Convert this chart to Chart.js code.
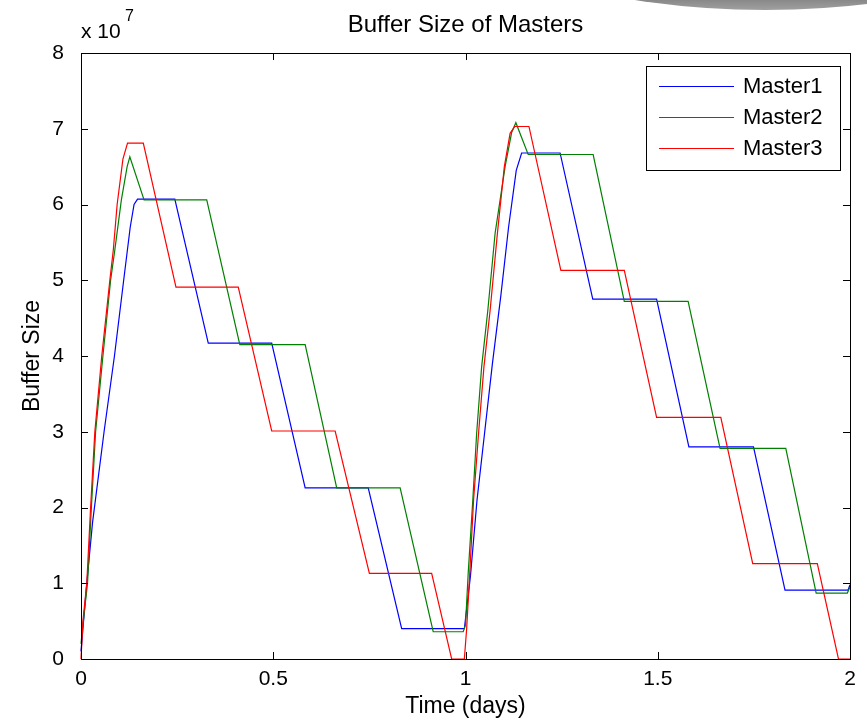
<!DOCTYPE html>
<html>
<head>
<meta charset="utf-8">
<script src="https://cdn.jsdelivr.net/npm/chart.js@4/dist/chart.umd.min.js"></script>
<style>
  html,body{margin:0;padding:0;background:#fff;}
  canvas{display:block;}
</style>
</head>
<body>
<canvas id="c" width="867" height="722"></canvas>
<script>
// tick labels
const xTicks=[0,0.5,1,1.5,2];
const yTicks=[0,1,2,3,4,5,6,7,8];
const names=["Master1","Master2","Master3"];
const colors=["#0000ff","#008000","#ff0000"];

// Master1 (blue) - time in days / buffer size in units of 1e7
const t1=[0,0.015,0.03,0.06,0.087,0.111,0.128,0.138,0.147,0.244,0.331,0.496,0.583,0.747,0.834,0.997,
  1.013,1.03,1.05,1.07,1.092,1.112,1.132,1.146,1.246,1.331,1.497,1.581,1.749,1.831,1.995,2.0];
const v1=[0.1,1.0,1.8,3.0,4.0,5.0,5.7,6.0,6.07,6.07,4.17,4.17,2.26,2.26,0.40,0.40,
  1.1,2.1,3.0,3.9,4.8,5.7,6.45,6.68,6.68,4.75,4.75,2.80,2.80,0.91,0.91,0.98];

// Master2 (green)
const t2=[0,0.006,0.017,0.027,0.038,0.057,0.077,0.088,0.105,0.12,0.127,0.164,0.327,0.413,0.583,0.665,0.83,0.916,0.994,
  1.0,1.007,1.019,1.029,1.042,1.058,1.077,1.103,1.12,1.131,1.163,1.332,1.413,1.579,1.662,1.833,1.912,1.993,2.0];
const v2=[0.2,0.5,1.0,2.0,3.0,4.0,5.0,5.4,6.06,6.5,6.63,6.06,6.06,4.15,4.15,2.26,2.26,0.36,0.36,
  0.45,1.13,2.1,2.98,3.86,4.6,5.62,6.5,6.95,7.08,6.66,6.66,4.72,4.72,2.78,2.78,0.87,0.87,0.95];

// Master3 (red)
const t3=[0,0.005,0.015,0.025,0.036,0.054,0.075,0.084,0.094,0.109,0.121,0.162,0.247,0.409,0.496,0.661,0.75,0.912,0.964,0.997,
  1.003,1.011,1.021,1.034,1.048,1.064,1.083,1.101,1.116,1.128,1.165,1.248,1.413,1.497,1.664,1.747,1.915,1.97,2.0];
const v3=[0,0.5,1.0,2.0,3.0,4.0,5.0,5.4,6.0,6.6,6.81,6.81,4.91,4.91,3.01,3.01,1.13,1.13,0,0,
  0.4,1.13,2.1,2.98,3.86,4.6,5.62,6.5,6.94,7.03,7.03,5.13,5.13,3.19,3.19,1.26,1.26,0,0];

const series=[[t1,v1],[t2,v2],[t3,v3]];
const FONT="'Liberation Sans', Arial, Helvetica, sans-serif";

const frame={
  id:"frame",
  beforeDraw(chart){
    const c=chart.ctx;
    c.save();
    c.fillStyle="#fff";
    c.fillRect(0,0,chart.width,chart.height);
    // grey swoosh at the top right of the screenshot
    const g=c.createLinearGradient(0,-20,0,10);
    g.addColorStop(0,"#5a5a5a");g.addColorStop(1,"#a0a0a0");
    c.fillStyle=g;
    c.beginPath();
    c.ellipse(765,-91,300,101,0,0,Math.PI*2);
    c.fill();
    c.restore();
  },
  afterDraw(chart){
    const c=chart.ctx,a=chart.chartArea,x=chart.scales.x,y=chart.scales.y;
    c.save();
    c.strokeStyle="#000";c.lineWidth=1;
    c.strokeRect(Math.round(a.left)+0.5,Math.round(a.top)+0.5,Math.round(a.right-a.left),Math.round(a.bottom-a.top));
    c.beginPath();
    yTicks.forEach(v=>{
      const p=Math.round(y.getPixelForValue(v))+0.5;
      c.moveTo(a.left,p);c.lineTo(a.left+7,p);
      c.moveTo(a.right,p);c.lineTo(a.right-7,p);
    });
    xTicks.forEach(v=>{
      const p=Math.round(x.getPixelForValue(v))+0.5;
      c.moveTo(p,a.bottom);c.lineTo(p,a.bottom-7);
      c.moveTo(p,a.top);c.lineTo(p,a.top+7);
    });
    c.stroke();

    // title and exponent
    c.fillStyle="#000";
    c.textBaseline="alphabetic";
    c.textAlign="center";
    c.font="24px "+FONT;
    c.fillText("Buffer Size of Masters",(a.left+a.right)/2,32);
    c.textAlign="left";
    c.font="21px "+FONT;
    c.fillText("x 10",81,38);
    c.font="16px "+FONT;
    c.fillText("7",125,21);

    // legend box
    const lx=646,ly=66,lw=194,lh=104;
    c.fillStyle="#fff";
    c.fillRect(lx,ly,lw,lh);
    c.strokeRect(lx+0.5,ly+0.5,lw,lh);
    c.font="22px "+FONT;
    c.textBaseline="middle";
    chart.data.datasets.forEach((d,i)=>{
      const yy=86+i*31;
      c.strokeStyle=d.borderColor;
      c.lineWidth=1.2;
      c.beginPath();c.moveTo(659,yy+0.5);c.lineTo(734,yy+0.5);c.stroke();
      c.fillStyle="#000";
      c.fillText(d.label,743,yy+1);
    });
    c.restore();
  }
};

new Chart(document.getElementById("c"),{
  type:"line",
  data:{
    datasets:series.map((s,i)=>({
      label:names[i],
      data:s[0].map((t,k)=>({x:t,y:s[1][k]})),
      borderColor:colors[i],
      borderWidth:1.2,
      pointRadius:0,
      tension:0,
      fill:false,
      clip:4,
      order:2-i
    }))
  },
  options:{
    responsive:false,
    animation:false,
    devicePixelRatio:1,
    layout:{padding:{top:53,right:17,left:0,bottom:0}},
    plugins:{legend:{display:false},tooltip:{enabled:false},title:{display:false}},
    scales:{
      x:{
        type:"linear",min:0,max:2,
        afterBuildTicks:s=>{s.ticks=xTicks.map(v=>({value:v}));},
        afterFit:s=>{s.height=63;},
        grid:{display:false},
        border:{display:false},
        ticks:{color:"#000",font:{family:FONT,size:21},padding:0,maxRotation:0,callback:v=>String(v)},
        title:{display:true,text:"Time (days)",color:"#000",font:{family:FONT,size:23},padding:{top:0,bottom:2}}
      },
      y:{
        type:"linear",min:0,max:8,
        afterBuildTicks:s=>{s.ticks=yTicks.map(v=>({value:v}));},
        afterFit:s=>{s.width=81;},
        grid:{display:false},
        border:{display:false},
        ticks:{color:"#000",font:{family:FONT,size:21},padding:9,callback:v=>String(v)},
        title:{display:true,text:"Buffer Size",color:"#000",font:{family:FONT,size:23},padding:{top:19,bottom:0}}
      }
    }
  },
  plugins:[frame]
});
</script>
</body>
</html>
